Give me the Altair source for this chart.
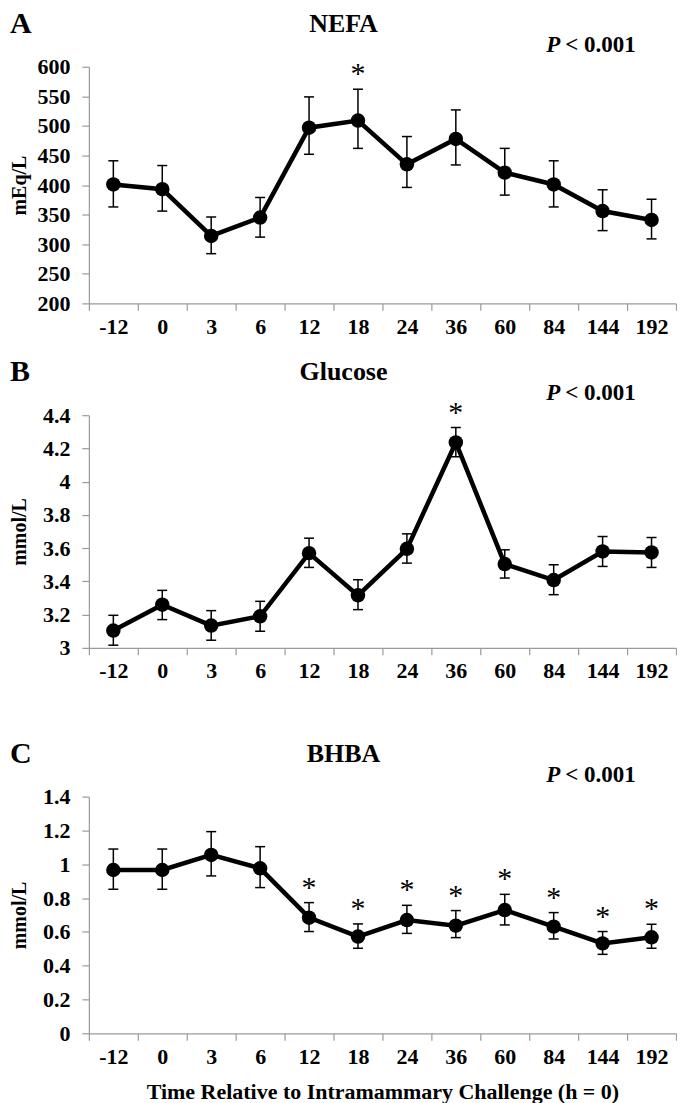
import altair as alt
import pandas as pd

times = ["-12", "0", "3", "6", "12", "18", "24", "36", "60", "84", "144", "192"]

nefa_mean = [401, 393, 314, 345, 497, 509, 435, 478, 421, 401, 356, 341]
nefa_hi = [441, 433, 346, 379, 549, 562, 482, 527, 462, 441, 392, 376]
nefa_lo = [363, 356, 284, 312, 452, 462, 396, 434, 383, 363, 323, 309]
nefa_star = ["18"]

glu_mean = [3.104, 3.26, 3.134, 3.19, 3.57, 3.316, 3.596, 4.236, 3.504, 3.408, 3.58, 3.574]
glu_hi = [3.196, 3.346, 3.224, 3.28, 3.66, 3.41, 3.686, 4.326, 3.59, 3.50, 3.67, 3.664]
glu_lo = [3.016, 3.17, 3.046, 3.10, 3.484, 3.23, 3.51, 4.15, 3.42, 3.32, 3.49, 3.484]
glu_star = ["36"]

bhba_mean = [0.966, 0.966, 1.055, 0.976, 0.684, 0.572, 0.670, 0.637, 0.729, 0.631, 0.532, 0.568]
bhba_hi = [1.09, 1.09, 1.193, 1.104, 0.773, 0.647, 0.757, 0.726, 0.822, 0.714, 0.602, 0.645]
bhba_lo = [0.852, 0.852, 0.931, 0.862, 0.602, 0.503, 0.591, 0.566, 0.641, 0.558, 0.467, 0.503]
bhba_star = ["12", "18", "24", "36", "60", "84", "144", "192"]

nefa_ticks = [200, 250, 300, 350, 400, 450, 500, 550, 600]
glu_ticks = [3, 3.2, 3.4, 3.6, 3.8, 4, 4.2, 4.4]
bhba_ticks = [0, 0.2, 0.4, 0.6, 0.8, 1, 1.2, 1.4]

FONT = "Liberation Serif"
W = 588


def panel(letter, title, ytitle, mean, lo, hi, stars, ticks, h, xtitle, spacer=None):
    df = pd.DataFrame({
        "t": times, "mean": mean, "lo": lo, "hi": hi,
        "star": ["*" if t in stars else "" for t in times],
    })
    one = pd.DataFrame({"k": [0]})
    xaxis = alt.Axis(
        title=xtitle, labelAngle=0, tickBand="extent", tickSize=7,
        labelPadding=6, labelFontSize=22, titleFontSize=22, titlePadding=14,
    ) if xtitle else alt.Axis(
        title=None, labelAngle=0, tickBand="extent", tickSize=7,
        labelPadding=6, labelFontSize=22,
    )
    x = alt.X("t:N", sort=times, axis=xaxis,
              scale=alt.Scale(type="band", paddingInner=0, paddingOuter=0))
    yaxis = alt.Axis(title=ytitle, values=ticks, format=".2~f", tickSize=7,
                     labelPadding=12, labelFontSize=22, titleFontSize=20,
                     titleX=-69, titleY=h / 2, titleBaseline="middle")
    yscale = alt.Scale(domain=[ticks[0], ticks[-1]], nice=False, zero=False)

    def Y(f):
        return alt.Y(f, type="quantitative", scale=yscale, axis=yaxis)

    base = alt.Chart(df)
    rule = base.mark_rule(color="black", strokeWidth=1.5).encode(
        x=x, y=Y("lo"), y2="hi")
    cap_hi = base.mark_tick(color="black", size=10, thickness=1.5, opacity=1).encode(
        x=x, y=Y("hi"))
    cap_lo = base.mark_tick(color="black", size=10, thickness=1.5, opacity=1).encode(
        x=x, y=Y("lo"))
    line = base.mark_line(color="black", strokeWidth=4.5).encode(x=x, y=Y("mean"))
    pts = base.mark_circle(color="black", size=210, opacity=1).encode(
        x=x, y=Y("mean"))
    star = base.transform_filter("datum.star != ''").mark_text(
        font=FONT, fontSize=30, color="black", baseline="middle", dy=-15
    ).encode(x=x, y=Y("hi"), text="star:N")

    txt = alt.Chart(one)
    lab = txt.mark_text(font=FONT, fontSize=30, fontWeight="bold", align="left",
                        baseline="top", color="black", text=letter).encode(
        x=alt.value(-79), y=alt.value(-58))
    ttl = txt.mark_text(font=FONT, fontSize=26, fontWeight="bold", align="center",
                        baseline="middle", color="black", text=title).encode(
        x=alt.value(255), y=alt.value(-43))
    p1 = txt.mark_text(font=FONT, fontSize=23, fontWeight="bold", fontStyle="italic",
                       align="right", baseline="middle", color="black", text="P").encode(
        x=alt.value(472), y=alt.value(-22))
    p2 = txt.mark_text(font=FONT, fontSize=23, fontWeight="bold", align="left",
                       baseline="middle", color="black", text="< 0.001").encode(
        x=alt.value(477), y=alt.value(-22))
    layers = [rule, cap_hi, cap_lo, line, pts, star, lab, ttl, p1, p2]
    if spacer is not None:
        sp = txt.mark_rule(opacity=0, strokeWidth=1).encode(
            x=alt.value(0), y=alt.value(spacer), y2=alt.value(spacer + 5))
        layers.append(sp)
    return alt.layer(*layers).properties(width=W, height=h)


a = panel("A", "NEFA", "mEq/L", nefa_mean, nefa_lo, nefa_hi, nefa_star,
          nefa_ticks, 237, None)
b = panel("B", "Glucose", "mmol/L", glu_mean, glu_lo, glu_hi, glu_star,
          glu_ticks, 233, None)
c = panel("C", "BHBA", "mmol/L", bhba_mean, bhba_lo, bhba_hi, bhba_star,
          bhba_ticks, 237, "Time Relative to Intramammary Challenge (h = 0)",
          spacer=-95)

chart = alt.vconcat(a, b, c, spacing=20).properties(
    padding={"top": 0, "left": 2, "right": 0, "bottom": 0}
).configure_view(stroke=None).configure_axis(
    grid=False, domainColor="#9a9a9a", tickColor="#9a9a9a", domainWidth=1.2,
    tickWidth=1.2, labelFont=FONT, labelFontWeight="bold", labelColor="black",
    titleFont=FONT, titleFontWeight="bold", titleColor="black",
)

chart.save("out.html", embed_options={"renderer": "svg", "actions": False})
